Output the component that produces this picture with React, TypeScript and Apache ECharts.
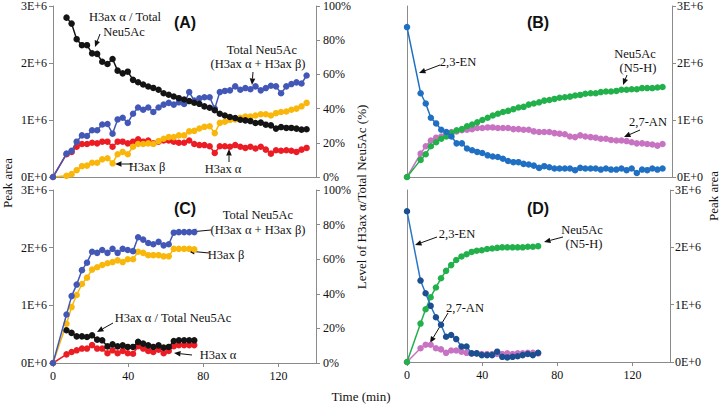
import React, { useEffect, useRef } from "react";
import * as echarts from "echarts";

// Sampling times (min) after t = 0
const times = [7.2, 9.9, 12.6, 15.4, 18.1, 20.8, 23.5, 26.2, 29.0, 31.7, 34.4, 37.1, 39.8, 42.6, 45.3, 48.0,
  50.7, 53.4, 56.2, 58.9, 61.6, 64.3, 67.0, 69.8, 72.5, 75.2, 77.9, 80.6, 83.4, 86.1, 88.8, 91.5,
  94.2, 97.0, 99.7, 102.4, 105.1, 107.8, 110.6, 113.3, 116.0, 118.7, 121.4, 124.2, 126.9, 129.6, 132.3, 135.0];

// Panel A (peak area in units of 1E+6; ratio in %)
const aTotal = [0.41, 0.46, 0.62, 0.73, 0.72, 0.82, 0.82, 0.92, 0.93, 0.76, 1.01, 1.04, 0.95, 1.11, 1.22, 1.18,
  1.22, 1.14, 1.22, 1.27, 1.30, 1.27, 1.31, 1.28, 1.49, 1.34, 1.38, 1.40, 1.40, 1.20,
  1.49, 1.51, 1.52, 1.59, 1.53, 1.56, 1.54, 1.59, 1.52, 1.56, 1.60, 1.59, 1.47, 1.59, 1.63, 1.66, 1.64, 1.78];
const aBeta = [0.02, 0.05, 0.12, 0.19, 0.20, 0.25, 0.25, 0.31, 0.33, 0.24, 0.40, 0.44, 0.40, 0.53, 0.58, 0.58,
  0.59, 0.58, 0.63, 0.67, 0.70, 0.70, 0.73, 0.73, 0.80, 0.81, 0.85, 0.88, 0.89, 0.77,
  0.95, 0.97, 1.00, 1.01, 1.04, 1.06, 1.06, 1.08, 1.10, 1.10, 1.08, 1.12, 1.14, 1.15, 1.18, 1.20, 1.24, 1.30];
const aAlpha = [0.40, 0.44, 0.53, 0.58, 0.58, 0.60, 0.59, 0.62, 0.62, 0.53, 0.62, 0.62, 0.59, 0.62, 0.66, 0.62,
  0.64, 0.59, 0.62, 0.64, 0.64, 0.62, 0.60, 0.60, 0.64, 0.58, 0.56, 0.56, 0.54, 0.42,
  0.54, 0.54, 0.53, 0.56, 0.53, 0.51, 0.53, 0.50, 0.53, 0.48, 0.41, 0.47, 0.46, 0.47, 0.46, 0.44, 0.48, 0.51];
const aRatio = [93.2, 89.7, 80.6, 77.1, 77.1, 72.3, 72.0, 67.4, 66.1, 69.0, 62.2, 60.6, 61.6, 56.8, 55.4, 54.1,
  52.9, 52.1, 51.0, 49.0, 48.1, 47.1, 46.1, 45.3, 44.4, 43.4, 42.8, 41.3, 40.5, 39.0,
  37.0, 36.0, 35.1, 34.5, 33.5, 33.1, 32.7, 31.6, 31.8, 30.6, 30.2, 28.3, 29.2, 28.7, 28.7, 28.3, 27.7, 27.9];

// Panel C
const cTotal = [0.84, 1.16, 1.36, 1.61, 1.74, 1.93, 1.91, 1.96, 1.91, 1.98, 1.91, 1.98, 1.96, 1.94, 2.18, 2.14,
  2.08, 2.06, 2.10, 2.04, 2.06, 2.26, 2.27, 2.27, 2.27, 2.27];
const cBeta = [0.68, 0.97, 1.18, 1.37, 1.48, 1.62, 1.66, 1.70, 1.73, 1.75, 1.78, 1.75, 1.80, 1.80, 1.93, 1.91,
  1.87, 1.87, 1.87, 1.85, 1.85, 1.98, 1.98, 1.98, 1.98, 1.97];
const cAlpha = [0.15, 0.19, 0.22, 0.25, 0.25, 0.31, 0.25, 0.25, 0.17, 0.22, 0.17, 0.21, 0.17, 0.16, 0.29, 0.25,
  0.21, 0.19, 0.23, 0.17, 0.21, 0.29, 0.31, 0.31, 0.31, 0.31];
const cRatio = [18.9, 17.4, 15.4, 15.4, 15.0, 16.0, 13.5, 13.1, 9.6, 10.8, 9.6, 10.2, 9.3, 9.3, 12.2, 11.2,
  10.2, 9.3, 10.2, 8.9, 9.3, 12.7, 13.1, 13.1, 13.1, 13.1];

// Panel B
const enStart = 2.63;
const bEN = [1.47, 1.29, 1.04, 0.94, 0.83, 0.79, 0.71, 0.59, 0.59, 0.50, 0.47, 0.44, 0.42, 0.38, 0.36, 0.35,
  0.32, 0.28, 0.26, 0.26, 0.23, 0.22, 0.20, 0.16, 0.19, 0.17, 0.15, 0.15, 0.15, 0.15, 0.12, 0.16,
  0.15, 0.15, 0.15, 0.13, 0.15, 0.13, 0.13, 0.15, 0.12, 0.15, 0.07, 0.13, 0.12, 0.15, 0.13, 0.15];
const bNeu = [0.30, 0.40, 0.54, 0.61, 0.67, 0.71, 0.77, 0.82, 0.84, 0.89, 0.92, 0.96, 1.00, 1.04, 1.08, 1.11,
  1.14, 1.16, 1.19, 1.22, 1.23, 1.27, 1.29, 1.31, 1.34, 1.35, 1.37, 1.39, 1.40, 1.41, 1.43, 1.44,
  1.46, 1.47, 1.47, 1.49, 1.50, 1.50, 1.51, 1.53, 1.53, 1.54, 1.54, 1.56, 1.56, 1.56, 1.57, 1.58];
const bAN = [0.41, 0.54, 0.64, 0.69, 0.71, 0.76, 0.79, 0.80, 0.82, 0.83, 0.84, 0.86, 0.86, 0.87, 0.87, 0.86,
  0.86, 0.86, 0.84, 0.84, 0.83, 0.83, 0.80, 0.79, 0.79, 0.79, 0.77, 0.76, 0.75, 0.71, 0.70, 0.73,
  0.71, 0.70, 0.69, 0.67, 0.67, 0.65, 0.64, 0.64, 0.63, 0.61, 0.59, 0.59, 0.58, 0.57, 0.55, 0.58];

// Panel D
const dEN = [1.42, 1.20, 0.98, 0.78, 0.65, 0.44, 0.47, 0.40, 0.27, 0.27, 0.15, 0.15, 0.12, 0.12, 0.12, 0.18,
  0.09, 0.08, 0.09, 0.10, 0.12, 0.14, 0.12, 0.16];
const dNeu = [0.67, 0.92, 1.13, 1.30, 1.46, 1.59, 1.69, 1.78, 1.84, 1.88, 1.92, 1.94, 1.95, 1.97, 1.98, 1.99,
  2.00, 2.00, 2.00, 2.00, 2.00, 2.01, 2.01, 2.02];
const dAN = [0.24, 0.30, 0.30, 0.24, 0.22, 0.16, 0.20, 0.20, 0.18, 0.16, 0.15, 0.15, 0.14, 0.14, 0.14, 0.14,
  0.14, 0.15, 0.14, 0.15, 0.15, 0.16, 0.16, 0.15];

const xTicks = [0, 40, 80, 120];

const SERIF = "'Liberation Serif', 'Times New Roman', serif";
const SANS = "'Liberation Sans', Arial, sans-serif";
const AXIS_GRAY = "#8a8a8a";

function pts(ys: number[], start?: number) {
  const out: number[][] = [];
  if (start !== undefined) out.push([0, start]);
  ys.forEach((v, i) => out.push([times[i], v]));
  return out;
}

function arrow(x1: number, y1: number, x2: number, y2: number) {
  const a = Math.atan2(y2 - y1, x2 - x1);
  const L = 6.5, W = 2.8;
  const bx = x2 - L * Math.cos(a), by = y2 - L * Math.sin(a);
  const px = -Math.sin(a) * W, py = Math.cos(a) * W;
  return [
    { type: "line", silent: true, shape: { x1, y1, x2: bx, y2: by }, style: { stroke: "#111", lineWidth: 1 } },
    { type: "polygon", silent: true, shape: { points: [[x2, y2], [bx + px, by + py], [bx - px, by - py]] }, style: { fill: "#111" } },
  ];
}

function txt(text: string, x: number, y: number, opts: any = {}) {
  return {
    type: "text", silent: true, x, y, rotation: opts.rotation || 0,
    style: {
      text, fill: "#111", font: opts.font || `13px ${SERIF}`,
      textAlign: opts.align || "center", textVerticalAlign: "middle",
    },
  };
}

const peakFmt = (v: number) => (v === 0 ? "0E+0" : `${v}E+6`);

function xAxis(grid: number, labels: boolean) {
  return {
    type: "value", gridIndex: grid, min: 0, max: 140, interval: 40,
    axisLine: { show: true, lineStyle: { color: AXIS_GRAY, width: 1 } },
    axisTick: { show: labels, length: 4, inside: false, customValues: xTicks, lineStyle: { color: AXIS_GRAY } },
    axisLabel: { show: labels, customValues: xTicks, margin: 7, color: "#111", fontFamily: SERIF, fontSize: 12 },
    splitLine: { show: false },
  };
}

function yAxis(grid: number, position: "left" | "right", kind: "peak" | "pct" | "blank", margin = 6) {
  const base: any = {
    type: "value", gridIndex: grid, position, min: 0,
    axisLine: { show: true, lineStyle: { color: AXIS_GRAY, width: 1 } },
    axisTick: { show: kind !== "blank", length: 4, inside: false, lineStyle: { color: AXIS_GRAY } },
    axisLabel: { show: kind !== "blank", margin, color: "#111", fontFamily: SERIF, fontSize: 12 },
    splitLine: { show: false },
  };
  if (kind === "pct") {
    base.max = 100; base.interval = 20; base.axisLabel.formatter = "{value}%";
  } else {
    base.max = 3; base.interval = 1; base.axisLabel.formatter = peakFmt;
  }
  return base;
}

function line(data: number[][], color: string, xi: number, yi: number, z: number, markerColor?: string) {
  return {
    type: "line", data, xAxisIndex: xi, yAxisIndex: yi, z,
    symbol: "circle", symbolSize: 6.5, showSymbol: true,
    lineStyle: { color, width: 1.5 },
    itemStyle: { color: markerColor || color, borderWidth: 0 },
    emphasis: { disabled: true },
  };
}

const C_BLACK = "#141414";
const C_TOTAL = "#4358b6";
const C_BETA = "#f8b70a";
const C_ALPHA = "#ec1c24";
const C_EN = "#1f70c2";
const C_EN_D = "#1c4f90";
const C_NEU = "#22b04b";
const C_AN = "#c873c2";

export default function App() {
  const ref = useRef<HTMLDivElement>(null);
  useEffect(() => {
    if (!ref.current) return;
    const chart = echarts.init(ref.current, undefined, { renderer: "svg" });
    const graphics: any[] = [
      // panel labels
      txt("(A)", 185, 22, { font: `bold 16px ${SANS}` }),
      txt("(B)", 538, 22, { font: `bold 16px ${SANS}` }),
      txt("(C)", 185, 208, { font: `bold 16px ${SANS}` }),
      txt("(D)", 538, 208, { font: `bold 16px ${SANS}` }),
      // axis titles
      txt("Peak area", 7, 183, { rotation: Math.PI / 2 }),
      txt("Level of H3ax \u03b1/Total Neu5Ac (%)", 361, 197, { rotation: Math.PI / 2 }),
      txt("Peak area", 713, 196, { rotation: Math.PI / 2 }),
      txt("Time (min)", 361, 396),
      // A annotations
      txt("H3ax \u03b1 / Total", 125, 17, { font: `12.5px ${SERIF}` }),
      txt("Neu5Ac", 124, 32, { font: `12.5px ${SERIF}` }),
      ...arrow(100, 34, 95, 47),
      txt("Total Neu5Ac", 262, 50, { font: `12.5px ${SERIF}` }),
      txt("(H3ax \u03b1 + H3ax \u03b2)", 258, 64, { font: `12.5px ${SERIF}` }),
      ...arrow(253, 72, 252, 85),
      txt("H3ax \u03b2", 147, 167, { font: `12.5px ${SERIF}` }),
      ...arrow(133, 164, 115, 164),
      txt("H3ax \u03b1", 223, 169, { font: `12.5px ${SERIF}` }),
      ...arrow(229, 162, 229, 149),
      // C annotations
      txt("Total Neu5Ac", 258, 215, { font: `12.5px ${SERIF}` }),
      txt("(H3ax \u03b1 + H3ax \u03b2)", 258, 230, { font: `12.5px ${SERIF}` }),
      ...arrow(211, 230, 190, 232),
      txt("H3ax \u03b2", 226, 255, { font: `12.5px ${SERIF}` }),
      ...arrow(209, 253, 188, 251),
      txt("H3ax \u03b1 / Total Neu5Ac", 173, 318, { font: `12.5px ${SERIF}` }),
      ...arrow(113, 323, 97, 332),
      txt("H3ax \u03b1", 218, 355, { font: `12.5px ${SERIF}` }),
      ...arrow(192, 355, 174, 353),
      // B annotations
      txt("2,3-EN", 458, 62, { font: `12.5px ${SERIF}` }),
      ...arrow(440, 65, 419, 73),
      txt("Neu5Ac", 635, 54, { font: `12.5px ${SERIF}` }),
      txt("(N5-H)", 638, 68, { font: `12.5px ${SERIF}` }),
      ...arrow(627, 75, 623, 85),
      txt("2,7-AN", 648, 122, { font: `12.5px ${SERIF}` }),
      ...arrow(640, 130, 624, 137),
      // D annotations
      txt("2,3-EN", 457, 234, { font: `12.5px ${SERIF}` }),
      ...arrow(437, 237, 415, 245),
      txt("Neu5Ac", 582, 230, { font: `12.5px ${SERIF}` }),
      txt("(N5-H)", 584, 244, { font: `12.5px ${SERIF}` }),
      ...arrow(563, 237, 544, 242),
      txt("2,7-AN", 465, 308, { font: `12.5px ${SERIF}` }),
      ...arrow(448, 313, 430, 343),
    ];

    chart.setOption({
      animation: false,
      backgroundColor: "#ffffff",
      grid: [
        { left: 53, top: 5, width: 263, height: 172 },
        { left: 407, top: 5, width: 265, height: 172 },
        { left: 53, top: 190, width: 263, height: 173 },
        { left: 407, top: 190, width: 263, height: 172 },
      ],
      xAxis: [xAxis(0, false), xAxis(1, false), xAxis(2, true), xAxis(3, true)],
      yAxis: [
        yAxis(0, "left", "peak", 6),
        yAxis(0, "right", "pct", 7),
        yAxis(1, "left", "blank"),
        yAxis(1, "right", "peak", 5),
        yAxis(2, "left", "peak", 6),
        yAxis(2, "right", "pct", 7),
        yAxis(3, "left", "blank"),
        yAxis(3, "right", "peak", 5),
      ],
      series: [
        // A
        line(pts(aAlpha, 0), C_ALPHA, 0, 0, 2),
        line(pts(aBeta, 0), C_BETA, 0, 0, 3),
        line(pts(aTotal, 0), C_TOTAL, 0, 0, 4),
        line(pts(aRatio), C_BLACK, 0, 1, 5),
        // B
        line(pts(bAN, 0), C_AN, 1, 3, 2),
        line(pts(bNeu, 0), C_NEU, 1, 3, 3),
        line(pts(bEN, enStart), C_EN, 1, 3, 4),
        // C
        line(pts(cAlpha, 0), C_ALPHA, 2, 4, 2),
        line(pts(cBeta, 0), C_BETA, 2, 4, 3),
        line(pts(cTotal, 0), C_TOTAL, 2, 4, 4),
        line(pts(cRatio), C_BLACK, 2, 5, 5),
        // D
        line(pts(dAN, 0), C_AN, 3, 7, 2),
        line(pts(dNeu, 0), C_NEU, 3, 7, 3),
        line(pts(dEN, enStart), "#2a77c8", 3, 7, 4, C_EN_D),
      ],
      graphic: graphics,
    });
    return () => chart.dispose();
  }, []);
  return <div ref={ref} style={{ position: "fixed", left: 0, top: 0, width: 720, height: 406, background: "#fff" }} />;
}
